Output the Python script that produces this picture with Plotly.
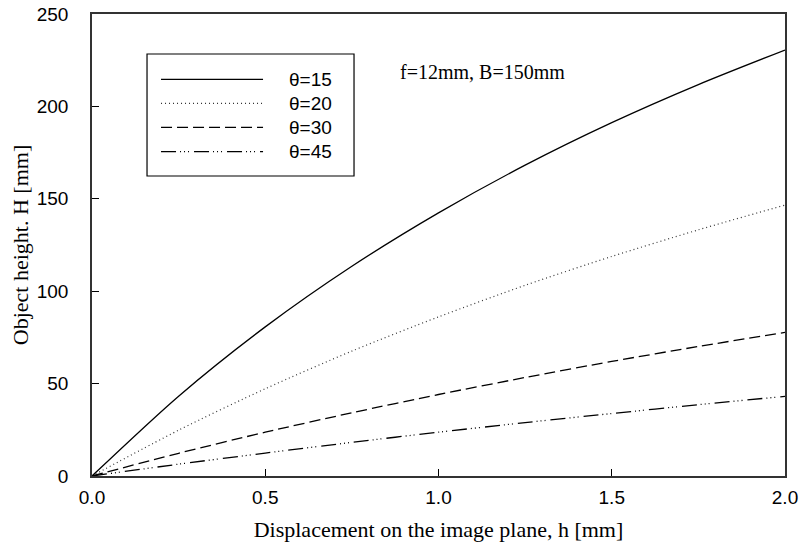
import plotly.graph_objects as go

# Data
h_mm = [0.0, 0.25, 0.5, 0.75, 1.0, 1.25, 1.5, 1.75, 2.0]
H_theta15 = [0.0, 43.2, 80.7, 113.5, 142.4, 168.2, 191.2, 211.8, 230.5]
H_theta20 = [0.0, 24.8, 47.2, 67.6, 86.1, 103.2, 118.8, 133.2, 146.6]
H_theta30 = [0.0, 12.3, 23.7, 34.2, 44.1, 53.3, 62.0, 70.1, 77.7]
H_theta45 = [0.0, 6.4, 12.4, 18.2, 23.7, 28.9, 33.8, 38.6, 43.1]
series_names = ["θ=15", "θ=20", "θ=30", "θ=45"]
x_ticks = [0.0, 0.5, 1.0, 1.5, 2.0]
y_ticks = [0, 50, 100, 150, 200, 250]

series = [H_theta15, H_theta20, H_theta30, H_theta45]
dashes = ["solid", "1px,3px", "11px,5px", "15px,4px,1px,3px,1px,3px,1px,5px"]
widths = [1.3, 1.2, 1.3, 1.3]
colors = ["#000000", "#333333", "#000000", "#000000"]

fig = go.Figure()
for name, ys, d, w, c in zip(series_names, series, dashes, widths, colors):
    fig.add_trace(go.Scatter(
        x=h_mm, y=ys, mode="lines", name=name, showlegend=False,
        line=dict(color=c, width=w, dash=d, shape="spline", smoothing=0.8),
    ))

# Manual legend box (paper coordinates) to match reference layout
shapes = [dict(type="rect", xref="paper", yref="paper",
               x0=0.0794, x1=0.3781, y0=0.6494, y1=0.9134,
               line=dict(color="#000000", width=1.2), fillcolor="rgba(0,0,0,0)")]
annotations = []
row_y = [0.8587, 0.8067, 0.7548, 0.7019]
for name, yy, d, w, c in zip(series_names, row_y, dashes, widths, colors):
    shapes.append(dict(type="line", xref="paper", yref="paper",
                       x0=0.0996, x1=0.2468, y0=yy, y1=yy,
                       line=dict(color=c, width=w, dash=d)))
    annotations.append(dict(xref="paper", yref="paper", x=0.2814, y=yy,
                            xanchor="left", yanchor="middle", showarrow=False,
                            text=name, font=dict(family="Liberation Sans", size=19, color="#000")))

annotations.append(dict(xref="paper", yref="paper", x=0.4416, y=0.8745,
                        xanchor="left", yanchor="middle", showarrow=False,
                        text="f=12mm, B=150mm",
                        font=dict(family="Liberation Serif", size=20, color="#000")))

fig.update_layout(
    width=800, height=551,
    margin=dict(l=92, r=15, t=14, b=75),
    paper_bgcolor="white", plot_bgcolor="white",
    shapes=shapes, annotations=annotations,
    showlegend=False,
)
fig.update_xaxes(
    range=[0, 2.0], tickvals=x_ticks, tickformat=".1f",
    ticks="inside", ticklen=7, tickwidth=1.2, tickcolor="#000",
    showline=True, linecolor="#333", linewidth=1.5, mirror=True,
    showgrid=False, zeroline=False, automargin=False,
    ticklabelstandoff=3,
    tickfont=dict(family="Liberation Sans", size=19, color="#000"),
    title=dict(text="Displacement on the image plane, h [mm]",
               font=dict(family="Liberation Serif", size=22, color="#000")),
)
fig.update_yaxes(
    range=[0, 250], tickvals=y_ticks,
    ticks="inside", ticklen=7, tickwidth=1.2, tickcolor="#000",
    showline=True, linecolor="#333", linewidth=1.5, mirror=True,
    showgrid=False, zeroline=False, automargin=False,
    ticklabelstandoff=18,
    tickfont=dict(family="Liberation Sans", size=19, color="#000"),
    title=dict(text="Object height. H [mm]", standoff=2,
               font=dict(family="Liberation Serif", size=22, color="#000")),
)

fig.write_html("out.html", config={"displayModeBar": False},
               post_script="document.body.style.margin='0';document.body.style.padding='0';")
